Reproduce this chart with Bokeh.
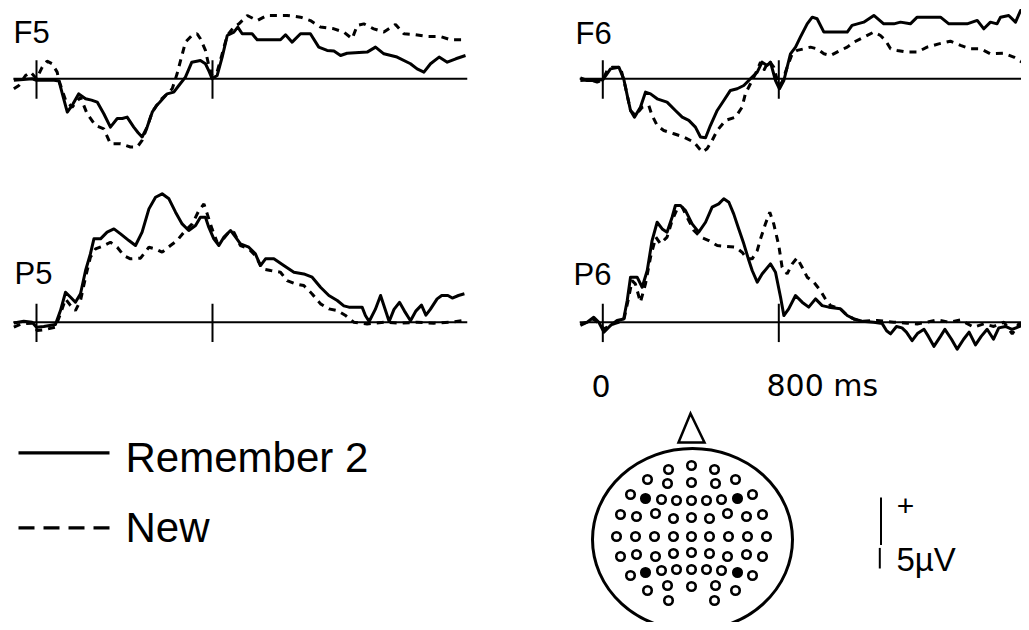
from bokeh.plotting import figure
from bokeh.models import Range1d
from bokeh.core.properties import value
from bokeh.embed import file_html
from bokeh.resources import INLINE

# ---------------- data: ERP traces (time in ms, amplitude in µV, positive up) ----------------
f5_rem_t = [-103, -60, -20, 0, 40, 80, 102, 120, 140, 165, 192, 223, 250, 276, 306, 336, 367, 390, 412, 442, 462, 480,
            503, 526, 545, 561, 594, 624, 647, 677, 706, 745, 768, 785, 798, 821, 844, 867, 897, 915, 935, 980, 1003,
            1109, 1132, 1162, 1200, 1245, 1283, 1321, 1352, 1382, 1412, 1503, 1541, 1579, 1639, 1700, 1730, 1761, 1791,
            1830, 1867, 1906, 1950]
f5_rem_v = [-0.1, -0.05, 0.0, -0.1, -0.1, -0.1, -0.15, -1.2, -2.35, -1.8, -1.06, -1.4, -1.5, -1.64, -2.46, -3.4, -2.8,
            -2.8, -2.7, -3.4, -3.8, -4.1, -3.4, -2.35, -1.9, -1.64, -1.06, -0.94, -0.47, 0.12, 1.17, 1.29, 1.06, 0.5, 0.0,
            0.23, 1.53, 3.05, 3.29, 3.64, 3.17, 3.17, 2.75, 2.75, 3.1, 2.58, 3.17, 3.17, 2.23, 2.0, 1.95, 1.64, 1.8,
            1.88, 2.23, 1.76, 1.53, 1.06, 0.7, 0.47, 1.06, 1.53, 1.17, 1.41, 1.64]

f5_new_t = [-103, -80, -50, -27, 0, 26, 48, 71, 94, 102, 132, 162, 200, 230, 268, 306, 336, 382, 427, 458, 480, 503, 526,
            561, 594, 617, 639, 655, 677, 706, 730, 745, 768, 783, 798, 821, 844, 867, 897, 920, 958, 1003, 1048, 1094,
            1139, 1200, 1245, 1291, 1352, 1397, 1435, 1458, 1488, 1533, 1579, 1632, 1670, 1715, 1776, 1836, 1882, 1935]
f5_new_v = [-0.7, -0.47, 0.23, 0.47, 0.0, 0.82, 1.24, 1.06, 0.47, -0.12, -1.5, -2.0, -1.29, -2.46, -3.29, -3.52, -4.58,
            -4.58, -4.8, -4.8, -4.34, -3.4, -2.35, -1.53, -1.06, -0.7, 0.35, 1.29, 2.58, 3.05, 3.17, 2.82, 2.0, 0.94,
            0.23, 0.47, 1.76, 3.05, 3.64, 3.87, 4.46, 4.1, 4.46, 4.46, 4.46, 4.34, 4.1, 3.64, 3.52, 3.29, 2.82, 3.76,
            3.87, 3.52, 3.29, 3.83, 3.17, 3.12, 2.98, 2.98, 2.75, 2.75]

f6_rem_t = [-102, -71, -41, 0, 35, 73, 95, 111, 126, 144, 171, 194, 217, 247, 292, 330, 361, 391, 421, 444, 467, 489,
            520, 550, 580, 611, 641, 671, 702, 724, 747, 762, 785, 803, 823, 853, 876, 898, 929, 952, 974, 1005, 1111,
            1133, 1186, 1232, 1277, 1323, 1353, 1398, 1429, 1489, 1535, 1573, 1656, 1702, 1732, 1762, 1792, 1808, 1845,
            1876, 1899, 1939]
f6_rem_v = [0.07, -0.12, -0.12, -0.07, 0.7, 0.82, 0.0, -1.17, -2.23, -2.7, -2.0, -0.94, -1.06, -1.41, -1.64, -2.23,
            -2.7, -2.93, -3.4, -4.1, -4.15, -3.29, -2.23, -1.53, -0.82, -0.7, -0.47, 0.0, 0.47, 1.17, 0.94, 1.17, -0.12,
            -0.7, -0.12, 1.76, 2.23, 2.93, 3.87, 4.34, 4.23, 3.29, 3.29, 3.76, 3.99, 4.46, 3.87, 3.87, 3.99, 3.87, 4.34,
            4.34, 4.34, 3.87, 3.87, 4.11, 3.52, 3.99, 3.87, 4.34, 4.46, 3.99, 4.81, 4.93]

f6_new_t = [-102, -60, -26, 0, 20, 42, 80, 103, 126, 148, 179, 209, 224, 247, 277, 323, 368, 414, 452, 474, 497, 520,
            558, 603, 633, 648, 671, 694, 717, 732, 755, 777, 800, 815, 838, 861, 883, 914, 944, 974, 1005, 1035, 1080,
            1111, 1141, 1186, 1232, 1262, 1285, 1308, 1338, 1383, 1429, 1474, 1527, 1580, 1626, 1671, 1717, 1762, 1823,
            1868, 1906, 1939]
f6_new_v = [-0.12, -0.07, -0.23, -0.07, 0.59, 0.82, 0.82, -0.59, -2.23, -2.58, -2.0, -1.88, -2.58, -3.29, -3.64, -3.87,
            -4.1, -4.46, -5.16, -4.93, -4.34, -3.64, -2.93, -2.7, -2.0, -1.06, -0.35, 0.35, 1.17, 0.59, 1.29, 0.82,
            -0.47, -0.23, 0.82, 1.76, 2.0, 2.11, 2.23, 2.11, 1.76, 1.64, 2.0, 2.23, 2.58, 2.93, 3.29, 3.05, 2.7, 2.11,
            2.0, 1.88, 1.88, 2.23, 2.46, 2.65, 2.35, 2.11, 2.11, 1.76, 1.8, 1.53, 1.17, 1.17]

p5_rem_t = [-103, -58, -20, 0, 33, 86, 109, 132, 155, 177, 200, 223, 245, 261, 291, 321, 352, 382, 420, 450, 480, 511,
            541, 571, 602, 632, 662, 692, 723, 745, 768, 783, 806, 829, 852, 882, 905, 927, 965, 995, 1018, 1041, 1079,
            1124, 1170, 1215, 1253, 1291, 1329, 1367, 1397, 1420, 1480, 1495, 1512, 1540, 1564, 1585, 1603, 1625, 1650,
            1672, 1700, 1725, 1750, 1770, 1790, 1821, 1842, 1870, 1890, 1918, 1945]
p5_rem_v = [-0.05, 0.07, 0.0, -0.35, -0.3, -0.16, 0.82, 2.11, 1.76, 1.41, 2.0, 3.64, 4.81, 5.87, 5.87, 6.34, 6.57, 6.22,
            5.75, 5.4, 6.34, 7.98, 8.8, 9.04, 8.69, 7.75, 6.92, 6.46, 6.81, 7.39, 7.39, 6.69, 5.87, 5.4, 5.99, 6.46,
            5.99, 5.52, 5.28, 4.81, 3.99, 4.46, 4.46, 3.99, 3.52, 3.4, 3.17, 2.46, 1.88, 1.53, 1.15, 1.06, 1.06, 0.47,
            0.05, 0.9, 1.88, 0.9, 0.05, 0.9, 1.4, 0.8, 0.1, 0.8, 1.2, 0.5, 0.9, 1.64, 1.88, 1.88, 1.7, 1.88, 2.0]

p5_new_t = [-103, -70, -20, 3, 33, 86, 109, 132, 155, 177, 200, 223, 245, 268, 298, 336, 367, 397, 427, 473, 511, 541,
            571, 609, 639, 670, 708, 738, 761, 776, 798, 821, 844, 874, 897, 927, 965, 995, 1026, 1064, 1109, 1139,
            1177, 1215, 1253, 1291, 1329, 1367, 1405, 1442, 1503, 1580, 1655, 1730, 1806, 1882, 1942]
p5_new_v = [-0.35, -0.12, -0.07, -0.59, -0.54, -0.35, 0.59, 1.64, 1.17, 0.82, 1.53, 3.17, 4.58, 5.16, 5.33, 5.63, 5.28,
            4.69, 4.46, 4.51, 5.28, 5.16, 4.93, 5.4, 5.75, 6.34, 6.92, 7.86, 8.33, 7.63, 6.57, 5.63, 5.75, 6.34, 6.34,
            5.4, 5.16, 4.69, 3.76, 3.64, 3.52, 2.93, 2.7, 2.58, 1.99, 1.29, 0.94, 0.82, 0.47, 0.0, -0.12, 0.0, -0.07,
            0.0, -0.07, 0.0, 0.12]

p6_rem_t = [-102, -71, -41, -18, 5, 35, 65, 95, 111, 126, 156, 179, 202, 224, 247, 270, 292, 315, 330, 353, 376, 406,
            436, 467, 497, 527, 550, 573, 595, 618, 641, 664, 679, 702, 724, 762, 785, 808, 823, 845, 876, 906, 936,
            967, 997, 1027, 1080, 1111, 1141, 1179, 1232, 1270, 1290, 1308, 1335, 1360, 1380, 1406, 1430, 1460, 1480,
            1505, 1535, 1555, 1585, 1611, 1640, 1665, 1694, 1720, 1747, 1776, 1800, 1830, 1860, 1895, 1939]
p6_rem_v = [-0.12, 0.0, 0.35, 0.0, -0.7, -0.23, 0.12, 0.23, 1.53, 3.17, 3.17, 2.46, 3.64, 5.75, 7.04, 6.57, 6.34, 7.39,
            8.22, 8.22, 7.86, 6.92, 6.34, 7.04, 8.1, 8.33, 8.69, 8.45, 7.63, 6.57, 5.52, 4.34, 3.64, 2.82, 3.4, 4.11,
            3.52, 1.76, 0.47, 0.94, 1.88, 1.41, 1.06, 1.64, 1.17, 1.06, 0.94, 0.47, 0.23, 0.07, 0.0, -0.1, -0.6, -0.82,
            -0.3, -0.4, -0.7, -1.3, -0.8, -0.5, -1.0, -1.7, -1.0, -0.5, -1.2, -1.9, -1.2, -0.7, -1.6, -1.0, -0.5, -1.2,
            -0.4, -0.3, -0.5, -0.3, 0.0]

p6_new_t = [-102, -41, 5, 50, 95, 118, 133, 148, 171, 194, 217, 241, 262, 292, 315, 338, 361, 383, 414, 444, 482, 520,
            565, 603, 633, 656, 679, 702, 717, 739, 759, 777, 800, 815, 838, 861, 883, 906, 929, 959, 989, 1012, 1035,
            1080, 1111, 1141, 1179, 1247, 1323, 1383, 1429, 1474, 1520, 1573, 1626, 1686, 1732, 1777, 1823, 1861, 1891,
            1939]
p6_new_v = [-0.23, 0.23, -0.47, -0.12, 0.12, 1.76, 2.93, 2.7, 1.41, 2.7, 4.58, 5.99, 5.52, 5.99, 7.16, 7.98, 8.1, 7.39,
            6.46, 5.99, 5.75, 5.4, 5.33, 5.28, 4.93, 4.46, 4.46, 5.05, 5.87, 6.92, 7.75, 6.92, 5.4, 3.87, 3.4, 4.11,
            4.53, 3.87, 3.17, 2.82, 2.23, 1.64, 1.17, 0.94, 0.47, 0.23, 0.07, 0.12, 0.0, -0.07, -0.12, 0.0, 0.16, 0.0,
            0.16, -0.35, -0.12, -0.3, 0.0, -0.82, -0.12, 0.0]

panel_names = ["F5", "F6", "P5", "P6"]
epoch_ms = [-105, 1958]
tick_ms = [0, 800]
scale_uv = 5
legend_labels = ["Remember 2", "New"]
time_labels = ["0", "800 ms"]

# electrode layout (offsets from head centre in px, y up); filled = sites shown above
elec_x = [-23, 0, 23,
          -44, -24, 0, 24, 44,
          -61, -46, -30, -15, 0, 15, 30, 46, 61,
          -71, -55, -36, -18, 0, 18, 36, 55, 71,
          -75, -56, -37, -18, 0, 18, 37, 56, 75,
          -71, -55, -36, -18, 0, 18, 36, 55, 71,
          -61, -46, -30, -15, 0, 15, 30, 46, 61,
          -44, -24, 0, 24, 44,
          -23, 23]
elec_y = [67, 71, 67,
          57, 53, 54, 53, 57,
          42, 38, 37, 36, 36, 36, 37, 38, 42,
          22, 20, 23, 18, 19, 18, 23, 20, 22,
          0, 0, 0, 0, 0, 0, 0, 0, 0,
          -20, -18, -20, -17, -16, -17, -20, -18, -20,
          -39, -36, -34, -33, -33, -33, -34, -36, -39,
          -54, -49, -50, -49, -54,
          -64, -64]
elec_filled = [(-46, 38), (46, 38), (-46, -36), (46, -36)]
nose_x = [-13, -1, 13]
nose_y = [94, 123, 94]

# ---------------- layout constants (picture pixels) ----------------
W, H = 1021, 622
PX_MS = 0.22       # px per ms
PX_UV = 14.2       # px per µV
FONT = value("Liberation Sans")
FONT2 = value("DejaVu Sans")
BL = 0.38          # baseline correction, in em

p = figure(width=W, height=H, output_backend="svg", toolbar_location=None,
           x_range=Range1d(0, W), y_range=Range1d(H, 0),
           min_border=0, outline_line_color=None, background_fill_color="white")
p.axis.visible = False
p.grid.visible = False


def add_panel(name, x0, y0):
    xn, yn = name + "x", name + "y"
    p.extra_x_ranges[xn] = Range1d((0 - x0) / PX_MS, (W - x0) / PX_MS)
    p.extra_y_ranges[yn] = Range1d((y0 - H) / PX_UV, (y0 - 0) / PX_UV)
    return xn, yn


def label(xs, ys, texts, size, font=FONT):
    p.text(x=xs, y=[y - BL * size for y in ys], text=texts, text_font=font,
           text_font_size=f"{size}px", text_baseline="alphabetic", text_align="left", text_color="black")


panel_pos = {"F5": (36, 78.3), "F6": (602.3, 78.3), "P5": (36, 321.7), "P6": (602.3, 321.7)}
traces = {"F5": (f5_rem_t, f5_rem_v, f5_new_t, f5_new_v),
          "F6": (f6_rem_t, f6_rem_v, f6_new_t, f6_new_v),
          "P5": (p5_rem_t, p5_rem_v, p5_new_t, p5_new_v),
          "P6": (p6_rem_t, p6_rem_v, p6_new_t, p6_new_v)}

for name in panel_names:
    x0, y0 = panel_pos[name]
    xn, yn = add_panel(name, x0, y0)
    kw = dict(x_range_name=xn, y_range_name=yn)
    p.line(epoch_ms, [0, 0], line_color="black", line_width=2, **kw)
    p.segment(x0=tick_ms, x1=tick_ms, y0=[-1.4] * 2, y1=[1.3] * 2, line_color="black", line_width=2, **kw)
    rt, rv, nt, nv = traces[name]
    p.line(nt, nv, line_color="black", line_width=3, line_dash="7 6", **kw)
    p.line(rt, rv, line_color="black", line_width=3, line_join="round", **kw)

# panel labels (baselines in picture px)
label([13, 575, 14, 573], [43.5, 45, 285, 286], panel_names, 31)
# time labels
label([591, 766], [396.7, 396.7], time_labels, 30, FONT2)

# legend
p.line([18, 109], [452.3, 452.3], line_color="black", line_width=3.3)
p.line([18, 109], [527.3, 527.3], line_color="black", line_width=3.3, line_dash="16 9")
label([125, 125], [472.7, 543.3], legend_labels, 42)

# scale bar (5 µV)
p.extra_y_ranges["sb"] = Range1d((568 - H) / PX_UV, (568 - 0) / PX_UV)
p.segment(x0=[879.3, 880.5], x1=[879.3, 880.5], y0=[0, 1.65], y1=[1.45, scale_uv],
          line_color="black", line_width=2, y_range_name="sb")
p.text(x=[905], y=[505], text=["+"], text_font=FONT, text_font_size="30px",
       text_baseline="middle", text_align="center", text_color="black")
label([896], [571.7], ["5µV"], 33)

# head with electrode montage
HCX, HCY = 691, 536
p.extra_x_ranges["hx"] = Range1d(0 - HCX, W - HCX)
p.extra_y_ranges["hy"] = Range1d(HCY - H, HCY - 0)
hk = dict(x_range_name="hx", y_range_name="hy")
p.ellipse(x=[1], y=[-3], width=[200], height=[182], fill_color=None, line_color="black", line_width=3, **hk)
p.patch(nose_x, nose_y, fill_color=None, line_color="black", line_width=2.5, line_join="miter", **hk)
p.scatter(elec_x, elec_y, marker="circle", size=8.5, fill_color="white", line_color="black", line_width=2.6, **hk)
p.scatter([e[0] for e in elec_filled], [e[1] for e in elec_filled], marker="circle", size=8.5,
          fill_color="black", line_color="black", line_width=1, **hk)

open("out.html", "w").write(file_html(p, INLINE))
